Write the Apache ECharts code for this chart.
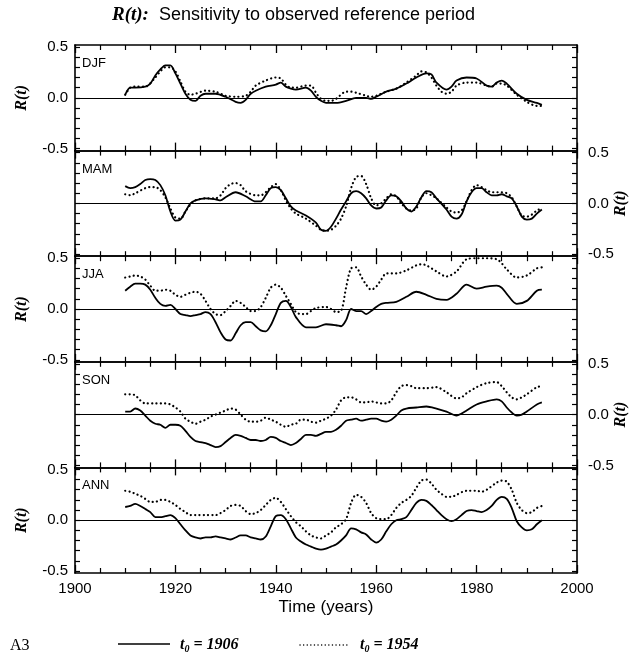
<!DOCTYPE html>
<html>
<head>
<meta charset="utf-8">
<script src="https://cdn.jsdelivr.net/npm/echarts@6/dist/echarts.min.js"></script>
<style>html,body{margin:0;padding:0;background:#fff}#c{width:635px;height:661px}</style>
</head>
<body>
<div id="c"></div>
<script>
// ---------- DATA ----------
const panelNames = ['DJF', 'MAM', 'JJA', 'SON', 'ANN'];
const xTickLabels = [1900, 1920, 1940, 1960, 1980, 2000];
const yTickLabels = [-0.5, 0.0, 0.5];

// DJF
const djfYearsA = [1910,1911,1912,1914,1915,1916,1917,1918,1919,1920,1921,1922,1923,1924,1925,1926,1928,1930,1932,1933,1934,1935,1936,1938,1940,1941,1942,1943,1944,1946,1947,1948,1949,1950,1952,1954,1956,1958,1959,1960,1962,1964,1966,1968,1970,1971,1972,1974,1975,1976,1978,1980,1982,1983,1984,1985,1986,1988,1990,1992,1993];
const djf1906 =   [0.03,0.10,0.10,0.11,0.14,0.22,0.28,0.32,0.32,0.24,0.14,0.04,-0.02,-0.03,0.02,0.04,0.04,0.01,-0.04,-0.05,-0.02,0.04,0.07,0.11,0.13,0.15,0.11,0.09,0.08,0.10,0.07,0.01,-0.03,-0.05,-0.05,-0.03,0.00,0.00,-0.01,0.01,0.06,0.09,0.14,0.20,0.24,0.23,0.15,0.08,0.11,0.17,0.20,0.19,0.12,0.11,0.15,0.17,0.14,0.04,-0.02,-0.05,-0.07];
const djfYearsB = [1910,1911,1912,1914,1916,1917,1918,1919,1920,1921,1922,1923,1924,1926,1928,1930,1932,1934,1935,1936,1938,1940,1941,1942,1943,1944,1946,1947,1948,1949,1950,1951,1952,1954,1955,1956,1958,1959,1960,1962,1964,1966,1968,1969,1970,1971,1972,1973,1974,1975,1976,1978,1980,1982,1983,1984,1985,1986,1988,1990,1992,1993];
const djf1954 =   [0.03,0.10,0.11,0.11,0.20,0.26,0.30,0.30,0.26,0.16,0.06,0.03,0.04,0.07,0.06,0.02,0.01,0.02,0.06,0.12,0.17,0.20,0.19,0.13,0.10,0.10,0.12,0.12,0.05,-0.01,-0.03,-0.03,-0.01,0.06,0.06,0.05,0.02,0.01,0.02,0.06,0.09,0.15,0.22,0.26,0.25,0.20,0.12,0.06,0.04,0.06,0.12,0.15,0.15,0.12,0.11,0.14,0.14,0.12,0.03,-0.04,-0.08,-0.08];

// MAM
const mamYearsA = [1910,1911,1912,1913,1914,1915,1916,1917,1918,1919,1920,1921,1922,1923,1924,1926,1928,1929,1930,1932,1934,1936,1937,1938,1939,1940,1941,1942,1943,1944,1946,1948,1949,1950,1951,1952,1953,1954,1955,1956,1957,1958,1959,1960,1961,1962,1963,1964,1965,1966,1967,1968,1969,1970,1971,1972,1974,1975,1976,1977,1978,1979,1980,1981,1982,1983,1984,1985,1986,1987,1988,1989,1990,1991,1992,1993];
const mam1906 =   [0.17,0.15,0.16,0.19,0.23,0.24,0.23,0.18,0.08,-0.08,-0.17,-0.16,-0.08,0.00,0.03,0.05,0.04,0.03,0.06,0.11,0.07,0.02,0.02,0.08,0.15,0.16,0.13,0.05,-0.03,-0.07,-0.12,-0.19,-0.26,-0.27,-0.23,-0.15,-0.06,0.02,0.10,0.12,0.10,0.05,-0.02,-0.05,-0.04,0.03,0.08,0.07,0.02,-0.05,-0.08,-0.03,0.06,0.12,0.11,0.05,-0.06,-0.13,-0.15,-0.11,0.02,0.11,0.15,0.15,0.11,0.08,0.08,0.09,0.07,0.05,-0.03,-0.13,-0.16,-0.15,-0.10,-0.06];
const mamYearsB = [1910,1911,1912,1914,1915,1916,1917,1918,1919,1920,1921,1922,1923,1924,1926,1928,1929,1930,1931,1932,1933,1934,1936,1937,1938,1939,1940,1941,1942,1943,1944,1946,1948,1949,1950,1951,1952,1953,1954,1955,1956,1957,1958,1959,1960,1961,1962,1963,1964,1965,1966,1967,1968,1969,1970,1971,1972,1974,1975,1976,1977,1978,1979,1980,1981,1982,1983,1984,1985,1986,1987,1988,1989,1990,1991,1992,1993];
const mam1954 =   [0.09,0.08,0.10,0.15,0.16,0.16,0.13,0.06,-0.05,-0.14,-0.15,-0.08,-0.01,0.03,0.05,0.05,0.08,0.15,0.19,0.20,0.18,0.12,0.08,0.08,0.11,0.16,0.19,0.13,0.03,-0.05,-0.10,-0.15,-0.22,-0.26,-0.27,-0.26,-0.22,-0.15,-0.03,0.15,0.26,0.27,0.19,0.05,-0.02,0.00,0.05,0.09,0.07,0.00,-0.05,-0.07,-0.05,0.06,0.10,0.08,0.05,-0.04,-0.08,-0.09,-0.07,0.02,0.13,0.18,0.16,0.13,0.11,0.11,0.11,0.10,0.06,-0.03,-0.12,-0.13,-0.11,-0.07,-0.05];

// JJA
const jjaYearsA = [1910,1911,1912,1913,1914,1915,1916,1917,1918,1919,1920,1921,1922,1923,1924,1925,1926,1927,1928,1929,1930,1931,1932,1933,1934,1935,1936,1937,1938,1939,1940,1941,1942,1943,1944,1946,1948,1950,1952,1953,1954,1955,1956,1957,1958,1959,1960,1961,1962,1964,1966,1968,1970,1972,1974,1976,1978,1980,1982,1984,1985,1986,1988,1990,1992,1993];
const jja1906 =   [0.18,0.22,0.25,0.25,0.24,0.19,0.11,0.05,0.03,0.04,0.00,-0.05,-0.06,-0.07,-0.06,-0.05,-0.03,-0.05,-0.13,-0.23,-0.30,-0.31,-0.24,-0.16,-0.13,-0.13,-0.17,-0.21,-0.22,-0.16,-0.05,0.06,0.08,0.02,-0.08,-0.18,-0.18,-0.15,-0.16,-0.17,-0.11,0.00,-0.02,-0.02,-0.05,-0.02,0.02,0.05,0.06,0.07,0.12,0.17,0.14,0.10,0.09,0.15,0.24,0.20,0.22,0.23,0.21,0.15,0.05,0.08,0.18,0.19];
const jjaYearsB = [1910,1911,1912,1913,1914,1915,1916,1917,1918,1919,1920,1921,1922,1923,1924,1925,1926,1927,1928,1929,1930,1931,1932,1933,1934,1935,1936,1937,1938,1939,1940,1941,1942,1943,1944,1945,1946,1947,1948,1950,1951,1952,1953,1954,1955,1956,1957,1958,1959,1960,1961,1962,1963,1964,1966,1968,1969,1970,1972,1974,1976,1978,1980,1982,1984,1985,1986,1988,1990,1992,1993];
const jja1954 =   [0.31,0.32,0.33,0.32,0.29,0.23,0.18,0.18,0.19,0.18,0.14,0.12,0.14,0.16,0.17,0.15,0.08,0.00,-0.05,-0.06,-0.02,0.03,0.08,0.06,0.02,-0.02,-0.02,0.02,0.11,0.21,0.24,0.21,0.13,0.05,-0.03,-0.05,-0.05,-0.02,0.01,0.02,0.00,-0.03,-0.02,0.21,0.40,0.41,0.32,0.24,0.19,0.22,0.29,0.35,0.35,0.35,0.38,0.43,0.44,0.43,0.37,0.32,0.37,0.49,0.50,0.50,0.49,0.45,0.39,0.31,0.33,0.40,0.41];

// SON
const sonYearsA = [1910,1911,1912,1913,1914,1915,1916,1917,1918,1919,1920,1921,1922,1923,1924,1925,1926,1927,1928,1929,1930,1931,1932,1933,1934,1935,1936,1937,1938,1939,1940,1941,1942,1943,1944,1945,1946,1947,1948,1949,1950,1951,1952,1953,1954,1955,1956,1957,1958,1959,1960,1961,1962,1963,1964,1965,1966,1968,1970,1972,1974,1976,1977,1978,1980,1982,1984,1985,1986,1987,1988,1989,1990,1992,1993];
const son1906 =   [0.03,0.03,0.06,0.04,-0.01,-0.06,-0.09,-0.10,-0.13,-0.10,-0.10,-0.11,-0.16,-0.22,-0.26,-0.27,-0.28,-0.30,-0.32,-0.31,-0.27,-0.23,-0.20,-0.21,-0.23,-0.25,-0.25,-0.26,-0.25,-0.22,-0.23,-0.26,-0.28,-0.30,-0.28,-0.24,-0.20,-0.20,-0.21,-0.19,-0.17,-0.17,-0.15,-0.11,-0.06,-0.05,-0.04,-0.06,-0.05,-0.04,-0.04,-0.06,-0.07,-0.05,-0.01,0.04,0.06,0.07,0.08,0.06,0.03,-0.01,0.01,0.04,0.10,0.13,0.15,0.13,0.07,0.02,-0.01,0.00,0.03,0.10,0.12];
const sonYearsB = [1910,1911,1912,1913,1914,1916,1918,1919,1920,1921,1922,1923,1924,1925,1926,1927,1928,1929,1930,1931,1932,1933,1934,1935,1936,1937,1938,1939,1940,1941,1942,1943,1944,1945,1946,1947,1948,1949,1950,1951,1952,1953,1954,1955,1956,1957,1958,1959,1960,1961,1962,1963,1964,1965,1966,1967,1968,1970,1972,1974,1976,1977,1978,1980,1982,1984,1985,1986,1987,1988,1989,1990,1992,1993];
const son1954 =   [0.20,0.20,0.19,0.14,0.11,0.11,0.11,0.10,0.07,0.03,-0.04,-0.07,-0.09,-0.07,-0.05,-0.02,0.00,0.02,0.04,0.06,0.05,0.00,-0.05,-0.07,-0.07,-0.06,-0.03,-0.05,-0.07,-0.10,-0.12,-0.10,-0.09,-0.05,-0.05,-0.07,-0.08,-0.06,-0.04,-0.01,0.05,0.14,0.17,0.17,0.15,0.12,0.12,0.13,0.12,0.11,0.11,0.14,0.22,0.28,0.29,0.28,0.26,0.26,0.27,0.22,0.16,0.17,0.21,0.27,0.31,0.32,0.28,0.22,0.17,0.15,0.17,0.20,0.27,0.28];

// ANN
const annYearsA = [1910,1911,1912,1913,1914,1915,1916,1917,1918,1919,1920,1921,1922,1923,1924,1925,1926,1927,1928,1929,1930,1931,1932,1933,1934,1935,1936,1937,1938,1939,1940,1941,1942,1943,1944,1945,1946,1947,1948,1949,1950,1951,1952,1953,1954,1955,1956,1957,1958,1959,1960,1961,1962,1963,1964,1965,1966,1967,1968,1969,1970,1971,1972,1973,1974,1975,1976,1977,1978,1979,1980,1981,1982,1983,1984,1985,1986,1987,1988,1989,1990,1991,1992,1993];
const ann1906 =   [0.13,0.14,0.16,0.14,0.11,0.08,0.03,0.03,0.04,0.05,0.02,-0.04,-0.10,-0.15,-0.17,-0.18,-0.17,-0.17,-0.16,-0.17,-0.18,-0.19,-0.17,-0.15,-0.15,-0.17,-0.18,-0.19,-0.16,-0.06,0.04,0.05,0.01,-0.08,-0.17,-0.21,-0.24,-0.26,-0.28,-0.29,-0.28,-0.26,-0.24,-0.20,-0.15,-0.08,-0.09,-0.12,-0.14,-0.19,-0.22,-0.19,-0.11,-0.04,0.00,0.01,0.03,0.10,0.17,0.20,0.19,0.15,0.10,0.05,0.01,-0.01,0.01,0.05,0.09,0.10,0.09,0.08,0.10,0.14,0.20,0.23,0.21,0.12,-0.01,-0.07,-0.10,-0.09,-0.04,0.00];
const annYearsB = [1910,1911,1912,1913,1914,1915,1916,1917,1918,1919,1920,1921,1922,1923,1924,1926,1928,1929,1930,1931,1932,1933,1934,1935,1936,1937,1938,1939,1940,1941,1942,1943,1944,1945,1946,1947,1948,1949,1950,1951,1952,1953,1954,1955,1956,1957,1958,1959,1960,1961,1962,1963,1964,1965,1966,1967,1968,1969,1970,1971,1972,1973,1974,1975,1976,1978,1980,1981,1982,1984,1985,1986,1987,1988,1989,1990,1991,1992,1993];
const ann1954 =   [0.29,0.28,0.26,0.24,0.21,0.18,0.18,0.20,0.20,0.18,0.15,0.11,0.08,0.05,0.05,0.05,0.05,0.07,0.10,0.14,0.15,0.14,0.09,0.06,0.07,0.10,0.15,0.20,0.22,0.18,0.11,0.04,-0.02,-0.06,-0.11,-0.15,-0.17,-0.18,-0.15,-0.12,-0.07,-0.04,0.01,0.17,0.25,0.23,0.17,0.07,0.02,0.01,0.01,0.05,0.12,0.17,0.20,0.24,0.32,0.39,0.40,0.36,0.30,0.26,0.23,0.23,0.25,0.29,0.29,0.28,0.30,0.37,0.39,0.38,0.30,0.17,0.10,0.07,0.08,0.12,0.14];

const seriesA = [[djfYearsA, djf1906],[mamYearsA, mam1906],[jjaYearsA, jja1906],[sonYearsA, son1906],[annYearsA, ann1906]];
const seriesB = [[djfYearsB, djf1954],[mamYearsB, mam1954],[jjaYearsB, jja1954],[sonYearsB, son1954],[annYearsB, ann1954]];

// ---------- LAYOUT ----------
const SANS = 'Liberation Sans, Arial, sans-serif';
const SERIF = 'Liberation Serif, Times New Roman, serif';
const TOP = 45, PH = 105.6, LEFT = 75, RIGHT = 58;
const yTicks = [];
for (let i = -5; i <= 5; i++) yTicks.push(i / 10);

const grid = [], xAxis = [], yAxis = [], series = [], graphic = [];
panelNames.forEach((name, k) => {
  grid.push({ left: LEFT, right: RIGHT, top: TOP + k * PH, height: PH, containLabel: false, outerBoundsMode: 'none' });
  const last = k === panelNames.length - 1;
  const xBase = {
    type: 'value', gridIndex: k, min: 1900, max: 2000, interval: 20,
    axisLine: { show: true, onZero: false, lineStyle: { color: '#000', width: 1.6 } },
    axisTick: { show: true, inside: true, length: 8, lineStyle: { color: '#000', width: 1.3 } },
    minorTick: { show: true, splitNumber: 4, length: 5, lineStyle: { color: '#000', width: 1.2 } },
    splitLine: { show: false }, minorSplitLine: { show: false }
  };
  xAxis.push(Object.assign({}, xBase, {
    position: 'bottom',
    axisLabel: { show: last, color: '#000', fontFamily: SANS, fontSize: 15, margin: 8,
      customValues: xTickLabels, formatter: v => String(v) }
  }));
  xAxis.push(Object.assign({}, xBase, { position: 'top', axisLabel: { show: false } }));
  const leftSide = k % 2 === 0;
  const yBase = {
    type: 'value', gridIndex: k, min: -0.52, max: 0.52,
    axisLine: { show: true, onZero: false, lineStyle: { color: '#000', width: 1.6 } },
    axisTick: { show: true, inside: true, length: 5, customValues: yTicks, lineStyle: { color: '#000', width: 1.2 } },
    splitLine: { show: false }
  };
  const labelAxis = Object.assign({}, yBase, {
    position: leftSide ? 'left' : 'right',
    axisLabel: { show: true, color: '#000', fontFamily: SANS, fontSize: 15, margin: leftSide ? 7 : 11,
      customValues: yTickLabels, formatter: v => v.toFixed(1) },
    name: 'R(t)', nameLocation: 'middle', nameRotate: 90, nameGap: leftSide ? 45 : 36,
    nameMoveOverlap: false,
    nameTextStyle: { fontFamily: SERIF, fontStyle: 'italic', fontWeight: 'bold', fontSize: 16, color: '#000' }
  });
  const plainAxis = Object.assign({}, yBase, { position: leftSide ? 'right' : 'left', axisLabel: { show: false } });
  yAxis.push(labelAxis, plainAxis);

  const xi = 2 * k, yi = 2 * k;
  const [ya, va] = seriesA[k];
  const [yb, vb] = seriesB[k];
  series.push({
    type: 'line', xAxisIndex: xi, yAxisIndex: yi, data: ya.map((y, i) => [y, va[i]]),
    showSymbol: false, smooth: 0.3, silent: true, z: 3,
    lineStyle: { color: '#000', width: 1.8 },
    markLine: { silent: true, symbol: 'none', label: { show: false }, animation: false,
      lineStyle: { color: '#000', width: 1, type: 'solid' }, data: [{ yAxis: 0 }] }
  });
  series.push({
    type: 'line', xAxisIndex: xi, yAxisIndex: yi, data: yb.map((y, i) => [y, vb[i]]),
    showSymbol: false, smooth: 0.3, silent: true, z: 2,
    lineStyle: { color: '#000', width: 2.2, type: [0.1, 4.2], cap: 'round' }
  });
  graphic.push({ type: 'text', left: 82, top: TOP + k * PH + 12,
    style: { text: name, font: '13px ' + SANS, fill: '#000' } });
});

// title, axis title, legend
graphic.push({ type: 'text', left: 112, top: 6, style: {
  text: '{a|R(t):}{b|  Sensitivity to observed reference period}',
  rich: { a: { fontFamily: SERIF, fontStyle: 'italic', fontWeight: 'bold', fontSize: 19, fill: '#000' },
          b: { fontFamily: SANS, fontSize: 18, fill: '#000' } } } });
graphic.push({ type: 'text', x: 326, y: 607, style: { text: 'Time (years)', font: '17px ' + SANS, fill: '#000', align: 'center', verticalAlign: 'middle' } });
graphic.push({ type: 'text', x: 10, y: 646, style: { text: 'A3', font: '16px ' + SERIF, fill: '#000', verticalAlign: 'middle' } });
graphic.push({ type: 'line', shape: { x1: 118, y1: 644, x2: 170, y2: 644 }, style: { stroke: '#000', lineWidth: 1.6 } });
graphic.push({ type: 'line', shape: { x1: 300, y1: 645, x2: 350, y2: 645 }, style: { stroke: '#000', lineWidth: 1.4, lineDash: [0.1, 3.5], lineCap: 'round' } });
const legRich = {
  t: { fontFamily: SERIF, fontStyle: 'italic', fontWeight: 'bold', fontSize: 16, fill: '#000' },
  s: { fontFamily: SERIF, fontStyle: 'italic', fontWeight: 'bold', fontSize: 10, fill: '#000', padding: [8, 0, 0, 0] }
};
graphic.push({ type: 'text', x: 180, y: 645, style: { text: '{t|t}{s|0}{t| = 1906}', rich: legRich, verticalAlign: 'middle' } });
graphic.push({ type: 'text', x: 360, y: 645, style: { text: '{t|t}{s|0}{t| = 1954}', rich: legRich, verticalAlign: 'middle' } });

const chart = echarts.init(document.getElementById('c'), null, { renderer: 'canvas' });
chart.setOption({ backgroundColor: '#fff', animation: false, grid, xAxis, yAxis, series, graphic });
</script>
</body>
</html>
